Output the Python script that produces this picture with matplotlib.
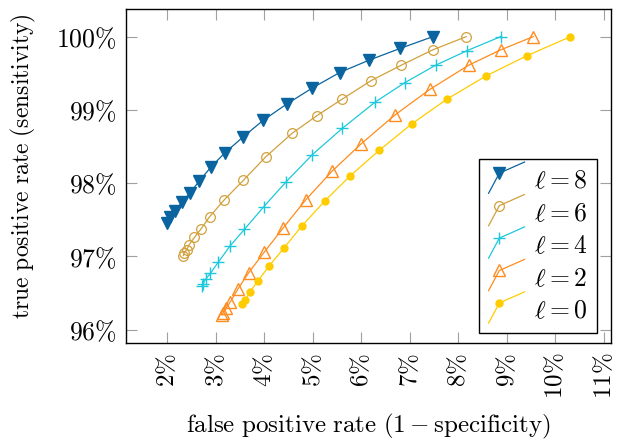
import matplotlib
matplotlib.use("Agg")
import matplotlib.pyplot as plt
from matplotlib.lines import Line2D
from matplotlib.legend_handler import HandlerBase

plt.rcParams['font.family'] = ['DejaVu Serif']
plt.rcParams['mathtext.fontset'] = 'cm'

# false positive rate (%) and true positive rate (%) per series
fpr_l8 = [7.47, 6.80, 6.16, 5.55, 4.99, 4.46, 3.98, 3.56, 3.18, 2.90, 2.66, 2.47, 2.30, 2.16, 2.06, 1.99]
tpr_l8 = [100.0, 99.84, 99.68, 99.51, 99.30, 99.08, 98.86, 98.63, 98.41, 98.22, 98.03, 97.87, 97.74, 97.62, 97.54, 97.46]

fpr_l6 = [8.16, 7.47, 6.82, 6.20, 5.61, 5.08, 4.57, 4.03, 3.57, 3.17, 2.87, 2.70, 2.56, 2.45, 2.40, 2.35, 2.33]
tpr_l6 = [100.0, 99.82, 99.61, 99.40, 99.15, 98.92, 98.68, 98.36, 98.04, 97.77, 97.54, 97.38, 97.26, 97.16, 97.09, 97.05, 97.01]

fpr_l4 = [8.87, 8.18, 7.53, 6.89, 6.29, 5.61, 4.99, 4.45, 3.99, 3.59, 3.29, 3.05, 2.89, 2.79, 2.74, 2.72]
tpr_l4 = [100.0, 99.81, 99.61, 99.37, 99.11, 98.75, 98.39, 98.02, 97.68, 97.37, 97.14, 96.92, 96.77, 96.69, 96.63, 96.60]

fpr_l2 = [9.54, 8.87, 8.21, 7.41, 6.69, 6.00, 5.39, 4.85, 4.39, 4.00, 3.68, 3.46, 3.30, 3.21, 3.15, 3.13]
tpr_l2 = [100.0, 99.82, 99.61, 99.28, 98.93, 98.54, 98.16, 97.77, 97.39, 97.06, 96.78, 96.56, 96.38, 96.29, 96.23, 96.20]

fpr_l0 = [10.31, 9.41, 8.56, 7.77, 7.04, 6.37, 5.77, 5.25, 4.78, 4.41, 4.10, 3.86, 3.70, 3.61, 3.55]
tpr_l0 = [100.0, 99.74, 99.46, 99.15, 98.81, 98.45, 98.10, 97.76, 97.42, 97.12, 96.87, 96.66, 96.51, 96.41, 96.35]

series_labels = [r'$\ell = 8$', r'$\ell = 6$', r'$\ell = 4$', r'$\ell = 2$', r'$\ell = 0$']

x_ticks = [2, 3, 4, 5, 6, 7, 8, 9, 10, 11]
x_ticklabels = [r'$2\%$', r'$3\%$', r'$4\%$', r'$5\%$', r'$6\%$', r'$7\%$', r'$8\%$', r'$9\%$', r'$10\%$', r'$11\%$']
y_ticks = [96, 97, 98, 99, 100]
y_ticklabels = [r'$96\%$', r'$97\%$', r'$98\%$', r'$99\%$', r'$100\%$']

x_label = r'$\mathrm{false\ positive\ rate\ (1 - specificity)}$'
y_label = r'$\mathrm{true\ positive\ rate\ (sensitivity)}$'

c8 = '#0a64a0'
c6 = '#d1a13c'
c4 = '#1ec8dc'
c2 = '#ff8c1e'
c0 = '#ffcc00'

fig = plt.figure(figsize=(6.18, 4.43), dpi=100)
ax = fig.add_axes([126/618, 1 - 343/443, (611-126)/618, (343-9.3)/443])

lw = 0.9
h8, = ax.plot(fpr_l8, tpr_l8, color=c8, lw=lw, marker='v', ms=8, mfc=c8, mec=c8, label=series_labels[0])
h6, = ax.plot(fpr_l6, tpr_l6, color=c6, lw=lw, marker='o', ms=7, mfc='none', mec=c6, mew=0.9, label=series_labels[1])
h4, = ax.plot(fpr_l4, tpr_l4, color=c4, lw=lw, marker='+', ms=9, mec=c4, mew=1.0, label=series_labels[2])
h2, = ax.plot(fpr_l2, tpr_l2, color=c2, lw=lw, marker='^', ms=8, mfc='none', mec=c2, mew=1.0, label=series_labels[3])
h0, = ax.plot(fpr_l0, tpr_l0, color=c0, lw=lw, marker='o', ms=5, mfc=c0, mec=c0, label=series_labels[4])

ax.set_xlim(1.149, 11.145)
ax.set_ylim(95.818, 100.374)
ax.set_xticks(x_ticks)
ax.set_xticklabels(x_ticklabels, rotation=90)
ax.set_yticks(y_ticks)
ax.set_yticklabels(y_ticklabels)
ax.tick_params(direction='in', length=8, width=0.8, color='#a0a0a0', top=True, right=True)
ax.tick_params(axis='x', pad=7, labelsize=18)
ax.tick_params(axis='y', pad=7, labelsize=18.5)
for s in ax.spines.values():
    s.set_linewidth(1.0)
    s.set_color('black')

ax.set_xlabel(x_label, fontsize=18)
ax.set_ylabel(y_label, fontsize=17)
ax.xaxis.set_label_coords(0.501, (343 - 412) / 333.7)
ax.yaxis.set_label_coords((38 - 126) / 485, 0.53)


class BentHandler(HandlerBase):
    def create_artists(self, legend, orig_handle, xdescent, ydescent, width, height, fontsize, trans):
        x0 = -xdescent
        y0 = -ydescent
        my = y0 + 0.85 * height
        xs = [x0, x0 + 0.3 * width, x0 + width]
        ys = [my - 14.5, my, my + 8.0]
        line = Line2D(xs, ys, color=orig_handle.get_color(), lw=orig_handle.get_linewidth())
        mk = Line2D([xs[1]], [ys[1]], linestyle='none', marker=orig_handle.get_marker(),
                    ms=orig_handle.get_markersize(), mfc=orig_handle.get_markerfacecolor(),
                    mec=orig_handle.get_markeredgecolor(), mew=orig_handle.get_markeredgewidth())
        line.set_transform(trans)
        mk.set_transform(trans)
        return [line, mk]


leg = ax.legend(handles=[h8, h6, h4, h2, h0], loc='lower right',
                bbox_to_anchor=((597-126)/485, (343-333)/333.7), borderaxespad=0,
                fontsize=18.5, fancybox=False, framealpha=1, edgecolor='black',
                handlelength=1.4, handletextpad=0.35, labelspacing=0.29, borderpad=0.38,
                handler_map={Line2D: BentHandler()})
leg.get_frame().set_linewidth(1.0)

fig.savefig('out.png', dpi=100)
